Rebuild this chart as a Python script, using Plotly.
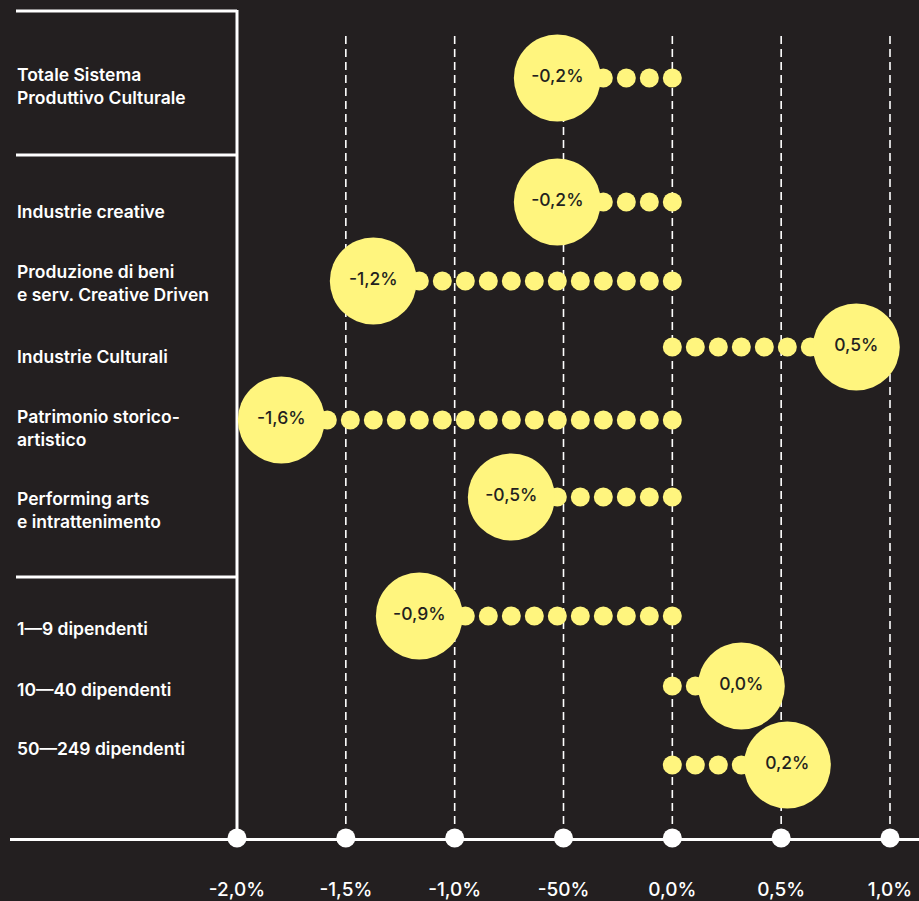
import plotly.graph_objects as go

# ---------------- data ----------------
categories = [
    "Totale Sistema<br>Produttivo Culturale",
    "Industrie creative",
    "Produzione di beni<br>e serv. Creative Driven",
    "Industrie Culturali",
    "Patrimonio storico-<br>artistico",
    "Performing arts<br>e intrattenimento",
    "1—9 dipendenti",
    "10—40 dipendenti",
    "50—249 dipendenti",
]
values = [-0.2, -0.2, -1.2, 0.5, -1.6, -0.5, -0.9, 0.0, 0.2]
dot_counts = [4, 4, 12, 7, 16, 6, 10, 2, 4]
tick_vals = [-2.0, -1.5, -1.0, -0.5, 0.0, 0.5, 1.0]
tick_labels = ["-2,0%", "-1,5%", "-1,0%", "-50%", "0,0%", "0,5%", "1,0%"]

# ---------------- layout helpers ----------------
W, H = 919, 901
BG = "#231f20"
YEL = "#fff57e"
PX_PER_UNIT = (890 - 237) / 3.0
PLOT_LEFT = 10
AXIS_Y = 838
X0 = -2.0 - (237 - PLOT_LEFT) / PX_PER_UNIT
X1 = 1.0 + (W - 890) / PX_PER_UNIT


def px2x(p):
    return -2.0 + (p - 237) / PX_PER_UNIT


row_y = [78, 202, 281, 347, 420, 497, 616, 686, 765]
label_y = [86, 211, 283, 356, 428, 510, 628, 689, 748]
STEP = 23 / PX_PER_UNIT
OFFSET = 46 / PX_PER_UNIT

TXT_FONT = "Inter, Roboto, 'DejaVu Sans', sans-serif"

fig = go.Figure()

# dots and bubbles
for cat, v, n, y in zip(categories, values, dot_counts, row_y):
    sgn = -1 if v < 0 else 1
    xs = [sgn * i * STEP for i in range(n)]
    fig.add_trace(go.Scatter(
        x=xs, y=[y] * n, mode="markers",
        marker=dict(size=19, color=YEL, line=dict(width=0)),
        hoverinfo="skip", showlegend=False, cliponaxis=False,
    ))
    cx = sgn * ((n - 1) * STEP + OFFSET)
    lbl = f"{v:.1f}".replace(".", ",") + "%"
    fig.add_trace(go.Scatter(
        x=[cx], y=[y], mode="markers+text", text=[lbl],
        textposition="middle center",
        textfont=dict(family=TXT_FONT, size=17.5, color=BG, weight=500),
        marker=dict(size=87, color=YEL, line=dict(width=0)),
        hovertext=[cat.replace("<br>", " ") + ": " + lbl], hoverinfo="text",
        showlegend=False, cliponaxis=False,
    ))

# axis dots
fig.add_trace(go.Scatter(
    x=tick_vals, y=[AXIS_Y] * len(tick_vals), mode="markers",
    marker=dict(size=19, color="white", line=dict(width=0)),
    hoverinfo="skip", showlegend=False, cliponaxis=False,
))

shapes = []
# dashed vertical guides
for tv in tick_vals[1:]:
    shapes.append(dict(type="line", x0=tv, x1=tv, y0=36, y1=AXIS_Y - 6,
                       line=dict(color="white", width=1.6, dash="8px,5px"),
                       layer="below"))
# solid vertical at -2
shapes.append(dict(type="line", x0=-2.0, x1=-2.0, y0=10, y1=AXIS_Y,
                   line=dict(color="white", width=3), layer="below"))
# horizontal separators
for yy in [11, 155, 577]:
    shapes.append(dict(type="line", x0=px2x(16), x1=-2.0, y0=yy, y1=yy,
                       line=dict(color="white", width=3), layer="below"))

annotations = []
for cat, ly in zip(categories, label_y):
    annotations.append(dict(
        x=px2x(15), y=ly, text=cat, showarrow=False,
        xanchor="left", yanchor="middle", align="left",
        font=dict(family=TXT_FONT, size=17.5, color="white", weight=600),
    ))

fig.update_layout(
    width=W, height=H,
    margin=dict(l=PLOT_LEFT, r=0, t=0, b=H - AXIS_Y, autoexpand=False),
    paper_bgcolor=BG, plot_bgcolor=BG,
    shapes=shapes, annotations=annotations,
    xaxis=dict(
        range=[X0, X1], showgrid=False, zeroline=False,
        showline=True, linecolor="white", linewidth=2.5,
        tickvals=tick_vals, ticktext=tick_labels, ticks="",
        ticklabelstandoff=32, automargin=False,
        tickfont=dict(family=TXT_FONT, size=19, color="white", weight=500),
        fixedrange=True,
    ),
    yaxis=dict(
        range=[AXIS_Y, 0], showgrid=False, zeroline=False,
        showticklabels=False, showline=False, fixedrange=True,
        automargin=False,
    ),
    showlegend=False,
)

fig.write_html(
    "out.html",
    config={"displayModeBar": False},
    post_script=(
        "document.body.style.margin='0';"
        "document.body.style.padding='0';"
        "document.body.style.background='" + BG + "';"
        "document.body.style.overflow='hidden';"
    ),
)
